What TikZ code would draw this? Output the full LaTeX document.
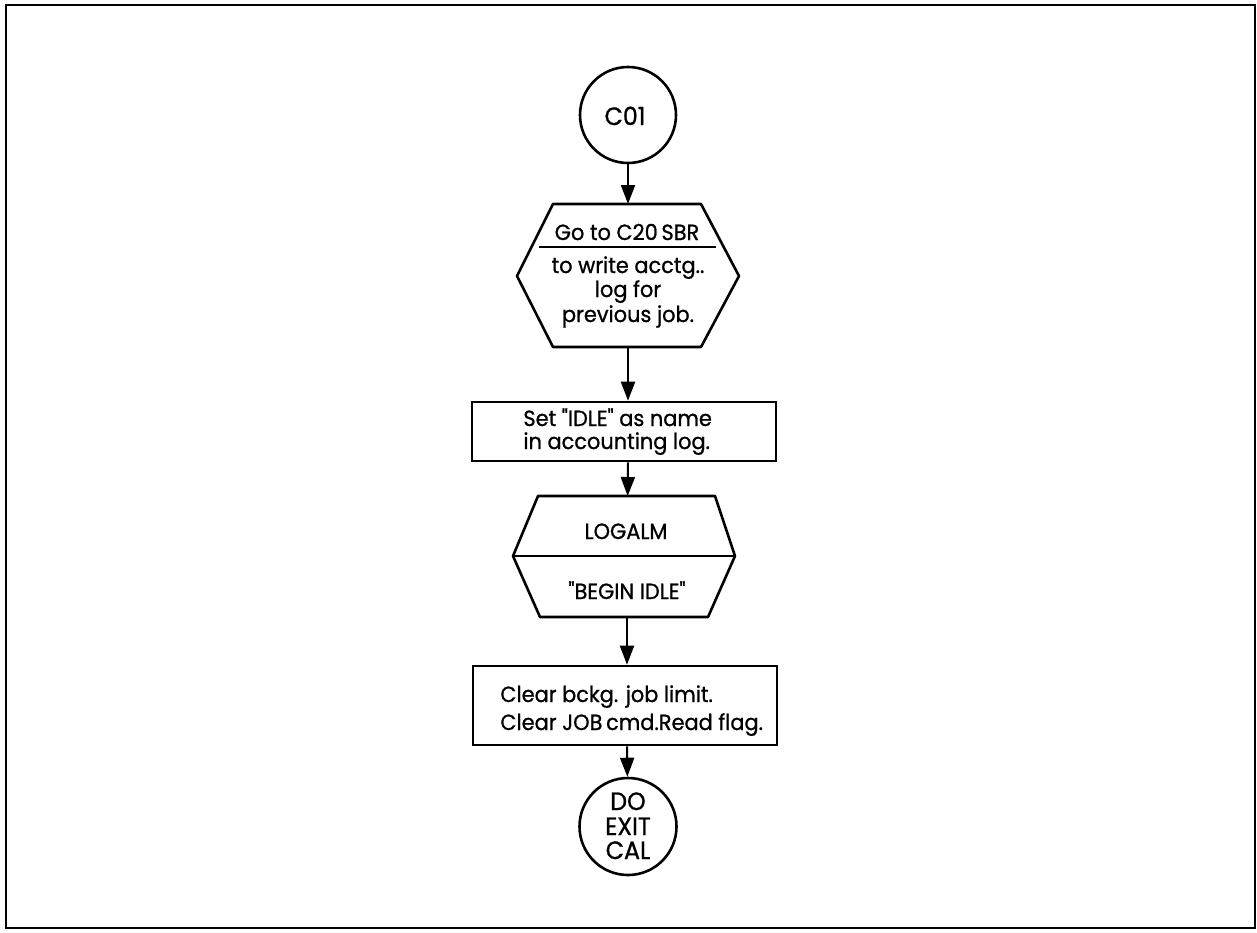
\documentclass[tikz,border=0pt]{standalone}
\usepackage{fontspec}
\setmainfont{Poppins}[Ligatures=TeXOff, FakeStretch=0.95, FakeBold=0.9]
\usetikzlibrary{arrows.meta}
\begin{document}
\begin{tikzpicture}[x=0.5pt,y=-0.5pt,
  shape line/.style={line width=1.3pt, line join=round},
  flow/.style={line width=1pt, -{Triangle[length=9.5pt,width=7pt]}},
  term/.style={circle, draw, line width=1.3pt, inner sep=0pt},
  procbox/.style={rectangle, draw, line width=1.3pt, inner sep=0pt},
  ghost/.style={rectangle, inner sep=0pt, outer sep=0pt},
  txt/.style={inner sep=0pt, anchor=base, font=\fontsize{11}{13}\selectfont},
  ltxt/.style={txt, anchor=base west},
  ctxt/.style={inner sep=0pt, anchor=base, font=\fontsize{12.5}{14}\selectfont}]
\useasboundingbox (0,0) rectangle (1257,932);
\draw[line width=1.3pt] (6,5) rectangle (1255,928);

% entry connector
\node[term, minimum size=48pt] (c01) at (628,115) {};
\node[ctxt] (c01t) at (625,125) {C01};

% subroutine call hexagon
\node[ghost, minimum width=111pt, minimum height=71.5pt] (h1) at (628,275.5) {};
\draw[shape line] (553,204) -- (701,204) -- (739,276) -- (701,347) -- (553,347) -- (517,276) -- cycle;
\draw[shape line] (539,247) -- (716,247);
\node[txt] (h1a) at (627,240) {Go to C20\,SBR};
\node[txt] (h1b) at (628,273) {to write acctg..};
\node[txt] (h1c) at (628,297) {log for};
\node[txt] (h1d) at (628,322) {previous job.};

% first process box
\node[procbox, minimum width=152pt, minimum height=29.5pt] (r1) at (624,431.5) {};
\node[ltxt] (r1a) at (523,426) {Set "IDLE" as name};
\node[ltxt] (r1b) at (523,449) {in accounting log.};

% log alarm hexagon
\node[ghost, minimum width=110pt, minimum height=60.5pt] (h2) at (627,556.5) {};
\draw[shape line] (538,496) -- (715,496) -- (735,556) -- (708,617) -- (540,617) -- (513,556) -- cycle;
\draw[shape line] (513,556) -- (735,556);
\node[txt] (h2a) at (626,539) {LOGALM};
\node[txt] (h2b) at (627,599) {"BEGIN IDLE"};

% second process box
\node[procbox, minimum width=152pt, minimum height=39.5pt] (r2) at (625,705.5) {};
\node[ltxt] (r2a) at (500,702) {Clear bckg. job limit.};
\node[ltxt] (r2b) at (500,730) {Clear JOB\,cmd.Read flag.};

% exit connector
\node[term, minimum size=48.5pt] (ex) at (628,826.5) {};
\node[ctxt] (ex1) at (628,810) {DO};
\node[ctxt] (ex2) at (628,835) {EXIT};
\node[ctxt] (ex3) at (628,859) {CAL};

% flow lines
\draw[flow] (c01) -- (h1);
\draw[flow] (h1) -- (h1 |- r1.north);
\draw[flow] (r1.south -| h1) -- (h2);
\draw[flow] (h2) -- (h2 |- r2.north);
\draw[flow] (r2.south -| h2) -- (ex);
\end{tikzpicture}
\end{document}
